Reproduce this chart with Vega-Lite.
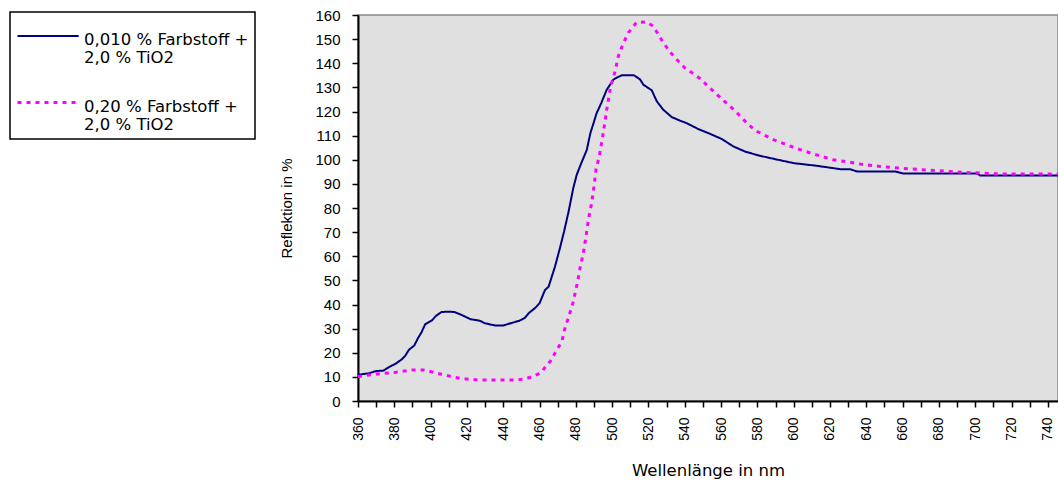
{
  "$schema": "https://vega.github.io/schema/vega-lite/v6.json",
  "width": 700,
  "height": 386,
  "autosize": {"type": "none"},
  "padding": {"left": 358, "top": 15, "right": 0, "bottom": 80},
  "background": "white",
  "config": {
    "view": {"fill": "#E0E0E0", "stroke": "#888888", "strokeWidth": 1.5},
    "font": "Liberation Sans",
    "legend": {
      "title": null, "orient": "none", "legendX": -348, "legendY": -3,
      "symbolType": "M-1,0H2.6", "symbolSize": 1156,
      "strokeColor": "black", "fillColor": "white", "padding": 6,
      "labelFont": "DejaVu Sans", "labelFontSize": 16.5, "labelColor": "black",
      "labelLimit": 400, "labelBaseline": "top", "labelOffset": 31, "rowPadding": 17
    }
  },
  "data": {
    "values": [
      {"s": "0,010 % Farbstoff + 2,0 % TiO2", "nm": 360, "r": 10.8},
      {"s": "0,010 % Farbstoff + 2,0 % TiO2", "nm": 363, "r": 11.2},
      {"s": "0,010 % Farbstoff + 2,0 % TiO2", "nm": 366, "r": 11.5},
      {"s": "0,010 % Farbstoff + 2,0 % TiO2", "nm": 370, "r": 12.4},
      {"s": "0,010 % Farbstoff + 2,0 % TiO2", "nm": 374, "r": 12.6},
      {"s": "0,010 % Farbstoff + 2,0 % TiO2", "nm": 377, "r": 14},
      {"s": "0,010 % Farbstoff + 2,0 % TiO2", "nm": 381, "r": 15.6},
      {"s": "0,010 % Farbstoff + 2,0 % TiO2", "nm": 384, "r": 17.2},
      {"s": "0,010 % Farbstoff + 2,0 % TiO2", "nm": 386, "r": 18.7},
      {"s": "0,010 % Farbstoff + 2,0 % TiO2", "nm": 388, "r": 21.2},
      {"s": "0,010 % Farbstoff + 2,0 % TiO2", "nm": 391, "r": 23},
      {"s": "0,010 % Farbstoff + 2,0 % TiO2", "nm": 393, "r": 26},
      {"s": "0,010 % Farbstoff + 2,0 % TiO2", "nm": 395, "r": 28.5},
      {"s": "0,010 % Farbstoff + 2,0 % TiO2", "nm": 397, "r": 31.8},
      {"s": "0,010 % Farbstoff + 2,0 % TiO2", "nm": 401, "r": 33.6},
      {"s": "0,010 % Farbstoff + 2,0 % TiO2", "nm": 403, "r": 35.3},
      {"s": "0,010 % Farbstoff + 2,0 % TiO2", "nm": 406, "r": 36.9},
      {"s": "0,010 % Farbstoff + 2,0 % TiO2", "nm": 410, "r": 37},
      {"s": "0,010 % Farbstoff + 2,0 % TiO2", "nm": 413, "r": 36.9},
      {"s": "0,010 % Farbstoff + 2,0 % TiO2", "nm": 417, "r": 35.7},
      {"s": "0,010 % Farbstoff + 2,0 % TiO2", "nm": 422, "r": 33.9},
      {"s": "0,010 % Farbstoff + 2,0 % TiO2", "nm": 427, "r": 33.3},
      {"s": "0,010 % Farbstoff + 2,0 % TiO2", "nm": 430, "r": 32.2},
      {"s": "0,010 % Farbstoff + 2,0 % TiO2", "nm": 435.5, "r": 31.3},
      {"s": "0,010 % Farbstoff + 2,0 % TiO2", "nm": 440, "r": 31.3},
      {"s": "0,010 % Farbstoff + 2,0 % TiO2", "nm": 444, "r": 32.2},
      {"s": "0,010 % Farbstoff + 2,0 % TiO2", "nm": 449, "r": 33.3},
      {"s": "0,010 % Farbstoff + 2,0 % TiO2", "nm": 452, "r": 34.5},
      {"s": "0,010 % Farbstoff + 2,0 % TiO2", "nm": 454, "r": 36.4},
      {"s": "0,010 % Farbstoff + 2,0 % TiO2", "nm": 457.5, "r": 38.5},
      {"s": "0,010 % Farbstoff + 2,0 % TiO2", "nm": 460, "r": 40.5},
      {"s": "0,010 % Farbstoff + 2,0 % TiO2", "nm": 463, "r": 46},
      {"s": "0,010 % Farbstoff + 2,0 % TiO2", "nm": 465, "r": 47.4},
      {"s": "0,010 % Farbstoff + 2,0 % TiO2", "nm": 468.5, "r": 55.7},
      {"s": "0,010 % Farbstoff + 2,0 % TiO2", "nm": 471, "r": 62.7},
      {"s": "0,010 % Farbstoff + 2,0 % TiO2", "nm": 473.5, "r": 70.2},
      {"s": "0,010 % Farbstoff + 2,0 % TiO2", "nm": 476, "r": 78.5},
      {"s": "0,010 % Farbstoff + 2,0 % TiO2", "nm": 478.6, "r": 88.3},
      {"s": "0,010 % Farbstoff + 2,0 % TiO2", "nm": 480.5, "r": 93.8},
      {"s": "0,010 % Farbstoff + 2,0 % TiO2", "nm": 483, "r": 98.6},
      {"s": "0,010 % Farbstoff + 2,0 % TiO2", "nm": 486, "r": 104},
      {"s": "0,010 % Farbstoff + 2,0 % TiO2", "nm": 488, "r": 111},
      {"s": "0,010 % Farbstoff + 2,0 % TiO2", "nm": 491.5, "r": 119.4},
      {"s": "0,010 % Farbstoff + 2,0 % TiO2", "nm": 494, "r": 123.5},
      {"s": "0,010 % Farbstoff + 2,0 % TiO2", "nm": 497, "r": 129},
      {"s": "0,010 % Farbstoff + 2,0 % TiO2", "nm": 500.7, "r": 133.2},
      {"s": "0,010 % Farbstoff + 2,0 % TiO2", "nm": 503, "r": 134.2},
      {"s": "0,010 % Farbstoff + 2,0 % TiO2", "nm": 505.3, "r": 135},
      {"s": "0,010 % Farbstoff + 2,0 % TiO2", "nm": 512, "r": 135},
      {"s": "0,010 % Farbstoff + 2,0 % TiO2", "nm": 515.4, "r": 133.3},
      {"s": "0,010 % Farbstoff + 2,0 % TiO2", "nm": 517.2, "r": 131.1},
      {"s": "0,010 % Farbstoff + 2,0 % TiO2", "nm": 521.8, "r": 128.8},
      {"s": "0,010 % Farbstoff + 2,0 % TiO2", "nm": 524.6, "r": 124.2},
      {"s": "0,010 % Farbstoff + 2,0 % TiO2", "nm": 528.2, "r": 120.7},
      {"s": "0,010 % Farbstoff + 2,0 % TiO2", "nm": 532.8, "r": 117.7},
      {"s": "0,010 % Farbstoff + 2,0 % TiO2", "nm": 537.4, "r": 116.2},
      {"s": "0,010 % Farbstoff + 2,0 % TiO2", "nm": 541, "r": 115.2},
      {"s": "0,010 % Farbstoff + 2,0 % TiO2", "nm": 547.5, "r": 112.7},
      {"s": "0,010 % Farbstoff + 2,0 % TiO2", "nm": 554, "r": 110.7},
      {"s": "0,010 % Farbstoff + 2,0 % TiO2", "nm": 560.4, "r": 108.6},
      {"s": "0,010 % Farbstoff + 2,0 % TiO2", "nm": 566.8, "r": 105.5},
      {"s": "0,010 % Farbstoff + 2,0 % TiO2", "nm": 573.2, "r": 103.4},
      {"s": "0,010 % Farbstoff + 2,0 % TiO2", "nm": 580.6, "r": 101.8},
      {"s": "0,010 % Farbstoff + 2,0 % TiO2", "nm": 587, "r": 100.7},
      {"s": "0,010 % Farbstoff + 2,0 % TiO2", "nm": 600, "r": 98.6},
      {"s": "0,010 % Farbstoff + 2,0 % TiO2", "nm": 612.7, "r": 97.5},
      {"s": "0,010 % Farbstoff + 2,0 % TiO2", "nm": 625.6, "r": 96.1},
      {"s": "0,010 % Farbstoff + 2,0 % TiO2", "nm": 631, "r": 96.1},
      {"s": "0,010 % Farbstoff + 2,0 % TiO2", "nm": 635, "r": 95.1},
      {"s": "0,010 % Farbstoff + 2,0 % TiO2", "nm": 656, "r": 95.1},
      {"s": "0,010 % Farbstoff + 2,0 % TiO2", "nm": 660.5, "r": 94.3},
      {"s": "0,010 % Farbstoff + 2,0 % TiO2", "nm": 701, "r": 94.3},
      {"s": "0,010 % Farbstoff + 2,0 % TiO2", "nm": 702.7, "r": 93.5},
      {"s": "0,010 % Farbstoff + 2,0 % TiO2", "nm": 746, "r": 93.5},
      {"s": "0,20 % Farbstoff + 2,0 % TiO2", "nm": 360, "r": 10.1},
      {"s": "0,20 % Farbstoff + 2,0 % TiO2", "nm": 369, "r": 11.1},
      {"s": "0,20 % Farbstoff + 2,0 % TiO2", "nm": 381, "r": 11.9},
      {"s": "0,20 % Farbstoff + 2,0 % TiO2", "nm": 390, "r": 12.9},
      {"s": "0,20 % Farbstoff + 2,0 % TiO2", "nm": 396, "r": 12.9},
      {"s": "0,20 % Farbstoff + 2,0 % TiO2", "nm": 401, "r": 12},
      {"s": "0,20 % Farbstoff + 2,0 % TiO2", "nm": 406, "r": 11.1},
      {"s": "0,20 % Farbstoff + 2,0 % TiO2", "nm": 411, "r": 10.2},
      {"s": "0,20 % Farbstoff + 2,0 % TiO2", "nm": 416, "r": 9.4},
      {"s": "0,20 % Farbstoff + 2,0 % TiO2", "nm": 426, "r": 8.7},
      {"s": "0,20 % Farbstoff + 2,0 % TiO2", "nm": 436, "r": 8.7},
      {"s": "0,20 % Farbstoff + 2,0 % TiO2", "nm": 446, "r": 8.7},
      {"s": "0,20 % Farbstoff + 2,0 % TiO2", "nm": 452, "r": 9.1},
      {"s": "0,20 % Farbstoff + 2,0 % TiO2", "nm": 457.5, "r": 10.5},
      {"s": "0,20 % Farbstoff + 2,0 % TiO2", "nm": 461.2, "r": 12},
      {"s": "0,20 % Farbstoff + 2,0 % TiO2", "nm": 464, "r": 15},
      {"s": "0,20 % Farbstoff + 2,0 % TiO2", "nm": 466, "r": 16.5},
      {"s": "0,20 % Farbstoff + 2,0 % TiO2", "nm": 469.5, "r": 21.2},
      {"s": "0,20 % Farbstoff + 2,0 % TiO2", "nm": 472.3, "r": 24.6},
      {"s": "0,20 % Farbstoff + 2,0 % TiO2", "nm": 474, "r": 30.2},
      {"s": "0,20 % Farbstoff + 2,0 % TiO2", "nm": 476.4, "r": 35.7},
      {"s": "0,20 % Farbstoff + 2,0 % TiO2", "nm": 478.6, "r": 41.2},
      {"s": "0,20 % Farbstoff + 2,0 % TiO2", "nm": 480.8, "r": 48.8},
      {"s": "0,20 % Farbstoff + 2,0 % TiO2", "nm": 482.3, "r": 55.1},
      {"s": "0,20 % Farbstoff + 2,0 % TiO2", "nm": 484.1, "r": 61.3},
      {"s": "0,20 % Farbstoff + 2,0 % TiO2", "nm": 485.6, "r": 68.2},
      {"s": "0,20 % Farbstoff + 2,0 % TiO2", "nm": 486.9, "r": 75.1},
      {"s": "0,20 % Farbstoff + 2,0 % TiO2", "nm": 488.7, "r": 82},
      {"s": "0,20 % Farbstoff + 2,0 % TiO2", "nm": 490, "r": 88.9},
      {"s": "0,20 % Farbstoff + 2,0 % TiO2", "nm": 491.1, "r": 95.9},
      {"s": "0,20 % Farbstoff + 2,0 % TiO2", "nm": 492.9, "r": 101.4},
      {"s": "0,20 % Farbstoff + 2,0 % TiO2", "nm": 495.1, "r": 111.1},
      {"s": "0,20 % Farbstoff + 2,0 % TiO2", "nm": 497, "r": 120.7},
      {"s": "0,20 % Farbstoff + 2,0 % TiO2", "nm": 499.2, "r": 130.4},
      {"s": "0,20 % Farbstoff + 2,0 % TiO2", "nm": 501.6, "r": 136.6},
      {"s": "0,20 % Farbstoff + 2,0 % TiO2", "nm": 503.4, "r": 142.9},
      {"s": "0,20 % Farbstoff + 2,0 % TiO2", "nm": 505.8, "r": 147.7},
      {"s": "0,20 % Farbstoff + 2,0 % TiO2", "nm": 508.9, "r": 152.6},
      {"s": "0,20 % Farbstoff + 2,0 % TiO2", "nm": 513.5, "r": 157},
      {"s": "0,20 % Farbstoff + 2,0 % TiO2", "nm": 519, "r": 157.1},
      {"s": "0,20 % Farbstoff + 2,0 % TiO2", "nm": 522.7, "r": 155.3},
      {"s": "0,20 % Farbstoff + 2,0 % TiO2", "nm": 527.3, "r": 149.6},
      {"s": "0,20 % Farbstoff + 2,0 % TiO2", "nm": 531.5, "r": 145},
      {"s": "0,20 % Farbstoff + 2,0 % TiO2", "nm": 536.5, "r": 140.8},
      {"s": "0,20 % Farbstoff + 2,0 % TiO2", "nm": 540.2, "r": 138},
      {"s": "0,20 % Farbstoff + 2,0 % TiO2", "nm": 544.8, "r": 135.6},
      {"s": "0,20 % Farbstoff + 2,0 % TiO2", "nm": 548.5, "r": 133.6},
      {"s": "0,20 % Farbstoff + 2,0 % TiO2", "nm": 554.2, "r": 129.5},
      {"s": "0,20 % Farbstoff + 2,0 % TiO2", "nm": 560.8, "r": 124.9},
      {"s": "0,20 % Farbstoff + 2,0 % TiO2", "nm": 567.7, "r": 120.3},
      {"s": "0,20 % Farbstoff + 2,0 % TiO2", "nm": 575.1, "r": 114.5},
      {"s": "0,20 % Farbstoff + 2,0 % TiO2", "nm": 580, "r": 111.7},
      {"s": "0,20 % Farbstoff + 2,0 % TiO2", "nm": 588.8, "r": 108.3},
      {"s": "0,20 % Farbstoff + 2,0 % TiO2", "nm": 595.3, "r": 106.5},
      {"s": "0,20 % Farbstoff + 2,0 % TiO2", "nm": 600.8, "r": 104.9},
      {"s": "0,20 % Farbstoff + 2,0 % TiO2", "nm": 610.9, "r": 102.4},
      {"s": "0,20 % Farbstoff + 2,0 % TiO2", "nm": 621.9, "r": 100},
      {"s": "0,20 % Farbstoff + 2,0 % TiO2", "nm": 631.1, "r": 99},
      {"s": "0,20 % Farbstoff + 2,0 % TiO2", "nm": 636.6, "r": 98.2},
      {"s": "0,20 % Farbstoff + 2,0 % TiO2", "nm": 646.7, "r": 97.3},
      {"s": "0,20 % Farbstoff + 2,0 % TiO2", "nm": 658.6, "r": 96.5},
      {"s": "0,20 % Farbstoff + 2,0 % TiO2", "nm": 674.2, "r": 95.7},
      {"s": "0,20 % Farbstoff + 2,0 % TiO2", "nm": 690.7, "r": 94.9},
      {"s": "0,20 % Farbstoff + 2,0 % TiO2", "nm": 713.7, "r": 94.1},
      {"s": "0,20 % Farbstoff + 2,0 % TiO2", "nm": 746, "r": 94.1}
    ]
  },
  "mark": {"type": "line", "clip": true},
  "encoding": {
    "x": {
      "field": "nm", "type": "quantitative",
      "scale": {"domain": [360, 745.6], "nice": false, "zero": false},
      "axis": {
        "title": "Wellenlänge in nm",
        "values": [360,370,380,390,400,410,420,430,440,450,460,470,480,490,500,510,520,530,540,550,560,570,580,590,600,610,620,630,640,650,660,670,680,690,700,710,720,730,740],
        "labelExpr": "datum.value % 20 == 0 ? datum.label : ''",
        "labelAngle": 270,
        "labelFont": "Liberation Sans", "labelFontSize": 14, "labelColor": "black",
        "labelPadding": 10, "labelOverlap": false, "labelBound": false, "labelFlush": false,
        "tickSize": 6, "tickColor": "black", "tickWidth": 1.5,
        "domainColor": "black", "domainWidth": 2, "grid": false,
        "titleFont": "DejaVu Sans", "titleFontSize": 16.5, "titleFontWeight": "normal",
        "titleColor": "black", "titlePadding": 22
      }
    },
    "y": {
      "field": "r", "type": "quantitative",
      "scale": {"domain": [0, 160], "nice": false},
      "axis": {
        "title": "Reflektion in %",
        "values": [0,10,20,30,40,50,60,70,80,90,100,110,120,130,140,150,160],
        "labelFont": "Liberation Sans", "labelFontSize": 15, "labelColor": "black",
        "labelPadding": 12, "labelOverlap": false, "labelBound": false, "labelFlush": false,
        "tickSize": 6, "tickColor": "black", "tickWidth": 1.5,
        "domainColor": "black", "domainWidth": 2, "grid": false,
        "titleFont": "Liberation Sans", "titleFontSize": 15, "titleFontWeight": "normal",
        "titleColor": "black", "titlePadding": 20
      }
    },
    "color": {
      "field": "s", "type": "nominal",
      "scale": {"domain": ["0,010 % Farbstoff + 2,0 % TiO2", "0,20 % Farbstoff + 2,0 % TiO2"], "range": ["#000080", "#FF00FF"]},
      "legend": {
        "labelExpr": "[substring(datum.label, 0, indexof(datum.label, '+') + 1), substring(datum.label, indexof(datum.label, '+') + 2)]",
        "encode": {"legend": {"update": {"strokeWidth": {"value": 1.5}}}, "labels": {"update": {"lineHeight": {"value": 18}, "dy": {"value": -4}}}}
      }
    },
    "strokeDash": {
      "field": "s", "type": "nominal",
      "scale": {"domain": ["0,010 % Farbstoff + 2,0 % TiO2", "0,20 % Farbstoff + 2,0 % TiO2"], "range": [[1, 0], [4, 5]]},
      "legend": {
        "labelExpr": "[substring(datum.label, 0, indexof(datum.label, '+') + 1), substring(datum.label, indexof(datum.label, '+') + 2)]",
        "encode": {"legend": {"update": {"strokeWidth": {"value": 1.5}}}, "labels": {"update": {"lineHeight": {"value": 18}, "dy": {"value": -4}}}}
      }
    },
    "strokeWidth": {
      "field": "s", "type": "ordinal",
      "scale": {"domain": ["0,010 % Farbstoff + 2,0 % TiO2", "0,20 % Farbstoff + 2,0 % TiO2"], "range": [2, 3]},
      "legend": {
        "labelExpr": "[substring(datum.label, 0, indexof(datum.label, '+') + 1), substring(datum.label, indexof(datum.label, '+') + 2)]",
        "encode": {"legend": {"update": {"strokeWidth": {"value": 1.5}}}, "labels": {"update": {"lineHeight": {"value": 18}, "dy": {"value": -4}}}}
      }
    }
  }
}
